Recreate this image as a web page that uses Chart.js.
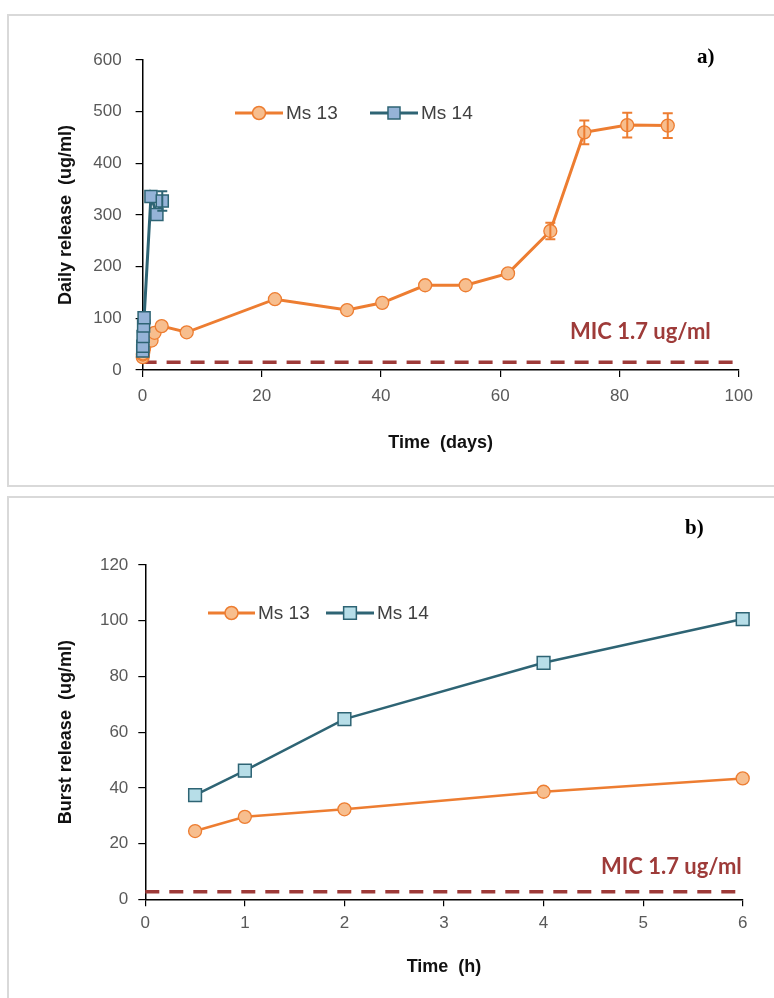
<!DOCTYPE html>
<html>
<head>
<meta charset="utf-8">
<script src="https://cdn.jsdelivr.net/npm/chart.js@4/dist/chart.umd.min.js"></script>
<style>
  html,body{margin:0;padding:0;background:#fff;overflow:hidden;}
  body{width:774px;height:998px;position:relative;}
  .panel{position:absolute;border:2px solid #d9d9d9;box-sizing:border-box;}
  canvas{position:absolute;left:0;}
</style>
</head>
<body>
<div class="panel" style="left:7px;top:14px;width:800px;height:473px;"></div>
<div class="panel" style="left:7px;top:496px;width:800px;height:600px;"></div>
<canvas id="chartTop" width="774" height="490" style="top:0px;"></canvas>
<canvas id="chartBottom" width="774" height="508" style="top:490px;"></canvas>
<script>
//data - panel a (daily release over days)
const ms13Days=[0.02,0.04,0.08,0.17,0.25,1.5,2,3.2,7.4,22.2,34.3,40.2,47.4,54.2,61.3,68.4,74.1,81.3,88.1];
const ms13Daily=[25,30,32,38,43,57,72,85,73,137,116,130,164,164,187,269,460,474,473];
const ms13DailyErr=[0,0,0,0,0,0,0,0,0,0,0,0,0,0,0,16,23,24,24];
const ms14Days=[0.02,0.04,0.08,0.17,0.25,1.4,2.4,3.3];
const ms14Daily=[37,46,65,85,101,336,301,327];
const ms14DailyErr=[0,0,0,0,0,0,0,19];
const micDaysRange=[0,100];
const micDailyLevel=15;

//data - panel b (burst release over hours)
const hours=[0.5,1,2,4,6];
const ms13Burst=[24.5,29.6,32.3,38.6,43.4];
const ms14Burst=[37.4,46.2,64.7,84.9,100.6];
const micHoursRange=[0,6];
const micBurstLevel=2.7;

//tick settings
const dailyTicks={min:0,max:600,step:100};
const daysTicks={min:0,max:100,step:20};
const burstTicks={min:0,max:120,step:20};
const hoursTicks={min:0,max:6,step:1};

const seriesNames=['Ms 13','Ms 14'];
const micLabel='MIC 1.7 ug/ml';

//colors
const orange='#ED7D31';
const orangeFill='#F7BE8E';
const teal='#2E6474';
const blueFill='#95B3D7';
const cyanFill='#B7DEE8';
const micColor='#9E3B39';

const tickFont={family:'"Liberation Sans", Arial, sans-serif',size:17};
const titleFont={family:'"Liberation Sans", Arial, sans-serif',size:18,weight:'bold'};

//helpers
function toPoints(xs,ys){
    return xs.map((x,i)=>({x:x,y:ys[i]}));
}

function drawMarker(ctx,style,x,y,r,fill,stroke,bw){
    ctx.save();
    ctx.fillStyle=fill;
    ctx.strokeStyle=stroke;
    ctx.lineWidth=bw;
    ctx.beginPath();
    if(style==='rect'){
        const s=Math.SQRT1_2*r;
        ctx.rect(x-s,y-s,2*s,2*s);
    }else{
        ctx.arc(x,y,r,0,Math.PI*2);
    }
    ctx.fill();
    ctx.stroke();
    ctx.restore();
}

//error bars drawn with the chart's own scales
const errorBarPlugin={
    id:'errorBars',
    afterDatasetDraw(chart,args){
        const ds=chart.data.datasets[args.index];
        if(!ds.errors)return;
        const xs=chart.scales.x, ys=chart.scales.y;
        const ctx=chart.ctx;
        ctx.save();
        ctx.strokeStyle=ds.borderColor;
        ctx.lineWidth=2;
        ds.data.forEach((p,i)=>{
            const e=ds.errors[i];
            if(!e)return;
            const px=xs.getPixelForValue(p.x);
            const top=ys.getPixelForValue(p.y+e);
            const bot=ys.getPixelForValue(p.y-e);
            ctx.beginPath();
            ctx.moveTo(px,top);ctx.lineTo(px,bot);
            ctx.moveTo(px-5,top);ctx.lineTo(px+5,top);
            ctx.moveTo(px-5,bot);ctx.lineTo(px+5,bot);
            ctx.stroke();
        });
        ctx.restore();
    }
};

//legend + labels inside the plot
const notesPlugin={
    id:'notes',
    afterDraw(chart,args,opts){
        const ctx=chart.ctx;
        ctx.save();
        (opts.legend||[]).forEach(item=>{
            ctx.strokeStyle=item.color;
            ctx.lineWidth=3;
            ctx.beginPath();
            ctx.moveTo(item.x,item.y);
            ctx.lineTo(item.x+item.len,item.y);
            ctx.stroke();
            drawMarker(ctx,item.style,item.x+item.len/2,item.y,item.r,item.fill,item.color,1.5);
            ctx.fillStyle='#404040';
            ctx.font='19px "Liberation Sans", Arial, sans-serif';
            ctx.textBaseline='middle';
            ctx.textAlign='left';
            ctx.fillText(item.text,item.x+item.len+3,item.y+1);
        });
        (opts.texts||[]).forEach(t=>{
            ctx.fillStyle=t.color;
            ctx.font=t.font;
            ctx.textBaseline='alphabetic';
            ctx.textAlign='left';
            ctx.fillText(t.text,t.x,t.y);
        });
        ctx.restore();
    }
};

function axisGrid(){
    return {display:true,drawOnChartArea:false,drawTicks:true,tickLength:7,color:'#000',lineWidth:1.2};
}

function makeChart(canvasId,cfg){
    const datasets=[
        {
            label:seriesNames[0],
            data:toPoints(cfg.x13,cfg.y13),
            errors:cfg.e13,
            borderColor:orange,
            backgroundColor:orangeFill,
            borderWidth:cfg.lineW,
            pointStyle:'circle',
            pointRadius:cfg.circleR,
            pointBorderWidth:1.3,
            pointBackgroundColor:orangeFill,
            pointBorderColor:orange,
            tension:0,
            clip:false,
            order:2
        },
        {
            label:seriesNames[1],
            data:toPoints(cfg.x14,cfg.y14),
            errors:cfg.e14,
            borderColor:teal,
            backgroundColor:cfg.squareFill,
            borderWidth:cfg.lineW,
            pointStyle:'rect',
            pointRadius:cfg.squareR,
            pointBorderWidth:1.5,
            pointBackgroundColor:cfg.squareFill,
            pointBorderColor:teal,
            tension:0,
            clip:false,
            order:1
        },
        {
            label:'MIC',
            data:toPoints(cfg.micRange,[cfg.mic,cfg.mic]),
            borderColor:micColor,
            borderWidth:3.5,
            borderDash:[14,10],
            pointRadius:0,
            clip:false,
            order:3
        }
    ];
    return new Chart(document.getElementById(canvasId),{
        type:'line',
        data:{datasets:datasets},
        options:{
            responsive:false,
            animation:false,
            devicePixelRatio:1,
            layout:{padding:cfg.padding},
            plugins:{
                legend:{display:false},
                tooltip:{enabled:false},
                notes:{legend:cfg.legend,texts:cfg.texts}
            },
            scales:{
                x:{
                    type:'linear',
                    min:cfg.xTicks.min,max:cfg.xTicks.max,
                    ticks:{stepSize:cfg.xTicks.step,color:'#595959',font:tickFont,padding:cfg.xTickPad,maxRotation:0},
                    grid:axisGrid(),
                    border:{display:true,color:'#000',width:1.5},
                    title:{display:true,text:cfg.xTitle,color:'#111',font:titleFont,padding:0},
                    afterFit(scale){scale.height=cfg.xAxisH;}
                },
                y:{
                    type:'linear',
                    min:cfg.yTicks.min,max:cfg.yTicks.max,
                    ticks:{stepSize:cfg.yTicks.step,color:'#595959',font:tickFont,padding:cfg.yTickPad},
                    grid:axisGrid(),
                    border:{display:true,color:'#000',width:1.5},
                    title:{display:true,text:cfg.yTitle,color:'#111',font:titleFont,padding:0},
                    afterFit(scale){scale.width=cfg.yAxisW;}
                }
            }
        },
        plugins:[errorBarPlugin,notesPlugin]
    });
}

const micFont='bold 22px Lato, "Open Sans", sans-serif';
const panelFont='bold 21px "Liberation Serif", "DejaVu Serif", serif';

//chart a
makeChart('chartTop',{
    x13:ms13Days,y13:ms13Daily,e13:ms13DailyErr,
    x14:ms14Days,y14:ms14Daily,e14:ms14DailyErr,
    micRange:micDaysRange,mic:micDailyLevel,
    xTicks:daysTicks,yTicks:dailyTicks,
    xTitle:'Time  (days)',yTitle:'Daily release  (ug/ml)',
    squareFill:blueFill,squareR:8.5,circleR:6.5,lineW:3,
    padding:{left:55.2,right:35.3,top:60,bottom:36.4},
    yAxisW:87.4,xAxisH:83.6,xTickPad:9,yTickPad:14,
    legend:[
        {x:235,y:113,len:48,text:seriesNames[0],color:orange,fill:orangeFill,style:'circle',r:6.5},
        {x:370,y:113,len:48,text:seriesNames[1],color:teal,fill:blueFill,style:'rect',r:8.5}
    ],
    texts:[
        {text:micLabel,x:570,y:339,font:micFont,color:micColor},
        {text:'a)',x:697,y:63,font:panelFont,color:'#000'}
    ]
});

//chart b
makeChart('chartBottom',{
    x13:hours,y13:ms13Burst,e13:null,
    x14:hours,y14:ms14Burst,e14:null,
    micRange:micHoursRange,mic:micBurstLevel,
    xTicks:hoursTicks,yTicks:burstTicks,
    xTitle:'Time  (h)',yTitle:'Burst release  (ug/ml)',
    squareFill:cyanFill,squareR:9,circleR:6.5,lineW:2.5,
    padding:{left:55.2,right:31.3,top:75,bottom:20.4},
    yAxisW:90.1,xAxisH:78.3,xTickPad:7,yTickPad:10,
    legend:[
        {x:208,y:123,len:47,text:seriesNames[0],color:orange,fill:orangeFill,style:'circle',r:6.5},
        {x:326,y:123,len:48,text:seriesNames[1],color:teal,fill:cyanFill,style:'rect',r:9}
    ],
    texts:[
        {text:micLabel,x:601,y:384,font:micFont,color:micColor},
        {text:'b)',x:685,y:44,font:panelFont,color:'#000'}
    ]
});
</script>
</body>
</html>
